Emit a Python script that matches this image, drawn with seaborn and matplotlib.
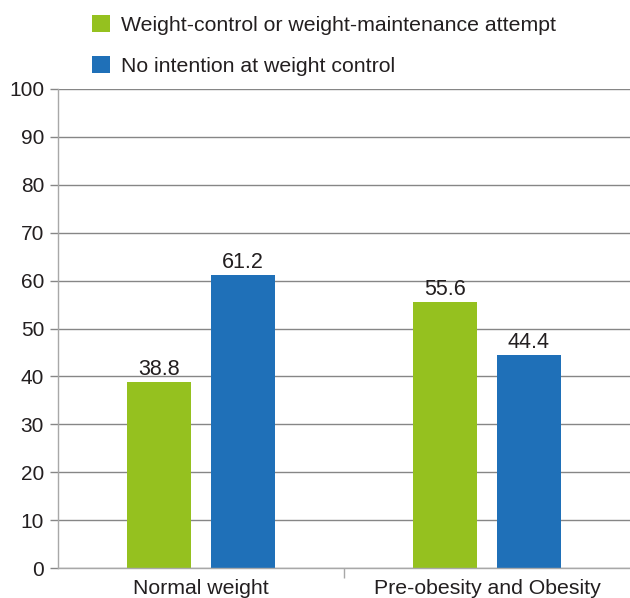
import matplotlib
matplotlib.use("Agg")
import matplotlib.pyplot as plt
import seaborn as sns
import pandas as pd

# Share of respondents (%) by weight status and weight-control intention
categories = ["Normal weight", "Pre-obesity and Obesity"]
series = ["Weight-control or weight-maintenance attempt", "No intention at weight control"]
attempt = [38.8, 55.6]
no_intention = [61.2, 44.4]
y_ticks = [0, 10, 20, 30, 40, 50, 60, 70, 80, 90, 100]

GREEN = "#95C11F"
BLUE = "#1F70B8"
TEXT = "#231F20"
GRID = "#868686"

df = pd.DataFrame({
    "group": categories * 2,
    "series": [series[0]] * 2 + [series[1]] * 2,
    "value": attempt + no_intention,
})

sns.set_theme(style="white")
plt.rcParams["font.family"] = ["Liberation Sans", "DejaVu Sans"]
plt.rcParams["text.color"] = TEXT

fig = plt.figure(figsize=(6.30, 5.98), dpi=100)
ax = fig.add_axes([58 / 630, (598 - 568) / 598, 572 / 630, (568 - 89) / 598])

sns.barplot(data=df, x="group", y="value", hue="series", order=categories,
            hue_order=series, palette=[GREEN, BLUE], saturation=1,
            width=0.584, gap=0.233, errorbar=None, linewidth=0, ax=ax)

for cont in ax.containers:
    ax.bar_label(cont, fmt="%.1f", padding=1.5, fontsize=15.5, color=TEXT)

ax.set_ylim(0, 100)
ax.set_xlim(-0.5, 1.5)
ax.set_yticks(y_ticks)
ax.set_xlabel("")
ax.set_ylabel("")
ax.yaxis.grid(True, color=GRID, linewidth=1)
ax.set_axisbelow(True)

for side in ["top", "right"]:
    ax.spines[side].set_visible(False)
ax.spines["left"].set_color("#A8A8A8")
ax.spines["bottom"].set_color("#A8A8A8")
ax.spines["left"].set_linewidth(1)
ax.spines["bottom"].set_linewidth(1)

ax.tick_params(axis="y", which="major", length=6, width=1, color=GRID,
               pad=4, labelsize=15, labelcolor=TEXT, left=True)
ax.tick_params(axis="x", which="major", length=0, pad=8,
               labelsize=15.3, labelcolor=TEXT)
ax.set_xticks([0.5], minor=True)
ax.tick_params(axis="x", which="minor", length=7, width=1, color="#A8A8A8",
               direction="out", bottom=True)

handles, labels = ax.get_legend_handles_labels()
ax.get_legend().remove()
fig.legend(handles, labels, loc="upper left",
           bbox_to_anchor=(92 / 630, 1 - 15 / 598), frameon=False,
           fontsize=15.3, handlelength=0.87, handleheight=0.87,
           handletextpad=0.5, labelspacing=1.0, borderpad=0,
           borderaxespad=0)

fig.savefig("out.png", dpi=100)
